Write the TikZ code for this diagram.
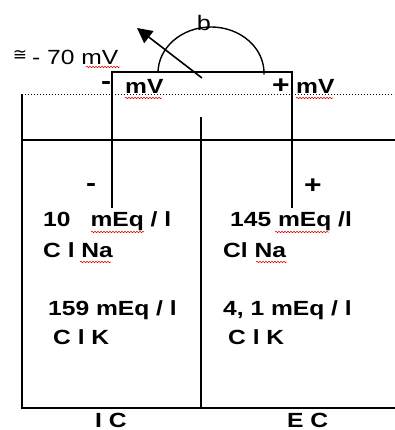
\documentclass[tikz,border=0pt]{standalone}
\usepackage{fontspec}
\setmainfont[FakeStretch=1.2]{Liberation Sans}
\newfontfamily\symfont{DejaVu Sans}
\usetikzlibrary{arrows.meta,decorations.pathmorphing}
\begin{document}
\begin{tikzpicture}[x=1pt,y=-1pt,
  wall/.style={line width=1.6pt,line cap=rect},
  lab/.style={font=\fontsize{20.5}{20}\selectfont\bfseries,inner sep=0pt,anchor=west},
  sign/.style={font=\fontsize{25}{25}\selectfont\bfseries,inner sep=0pt},
  squig/.style={red!85!black,line width=0.5pt,decorate,decoration={snake,amplitude=0.8pt,segment length=3pt}}]
\useasboundingbox (0,0) rectangle (394,430);
% coordinates
\coordinate (lt) at (22,95);
\coordinate (lb) at (22,408);
\coordinate (rb) at (394,408);
\coordinate (ht1) at (22,140);
\coordinate (ht2) at (394,140);
\coordinate (mt) at (201,118);
\coordinate (mb) at (201,408);
\coordinate (d1) at (22,95);
\coordinate (d2) at (394,95);
\coordinate (bl) at (112,207);
\coordinate (btl) at (112,72);
\coordinate (btr) at (292,72);
\coordinate (br) at (292,207);
\coordinate (arcs) at (158,73);
\coordinate (atail) at (202,78);
\coordinate (ahead) at (137,28);
% walls
\draw[wall] (lt) -- (lb) -- (rb);
\draw[wall] (ht1) -- (ht2);
\draw[wall] (mt) -- (mb);
\draw[dotted,line width=1pt] (d1) -- (d2);
% meter
\draw[wall] (bl) -- (btl) -- (btr) -- (br);
\draw[line width=1.4pt] (arcs) arc[start angle=180,end angle=362,x radius=53,y radius=46];
\draw[line width=1.6pt,-{Triangle[length=15pt,width=15pt]}] (atail) -- (ahead);
% labels
\node[inner sep=0pt,font=\fontsize{21}{21}\selectfont] (b) at (204,23) {b};
\node[inner sep=0pt,font=\symfont\fontsize{17}{17}\selectfont] (approx) at (20,55) {≅};
\node[inner sep=0pt,anchor=west,font=\fontsize{20.5}{20}\selectfont] (v) at (32,57) {- 70 mV};
\node[sign] (mvl1) at (106,86) {-};
\node[lab] (mvl2) at (125,86) {mV};
\node[sign] (mvr1) at (281,86) {+};
\node[lab] (mvr2) at (296,86) {mV};
\node[sign] (minus) at (91,188) {-};
\node[sign] (plus) at (313,186) {+};
\node[lab] (t1) at (43,221) {10\hspace{20pt}mEq / l};
\node[lab] (t2) at (43,250) {C l Na};
\node[lab] (t3) at (230,221) {145 mEq /l};
\node[lab] (t4) at (223,250) {Cl Na};
\node[lab] (t5) at (48,310) {159 mEq / l};
\node[lab] (t6) at (53,337) {C l K};
\node[lab] (t7) at (223,310) {4, 1 mEq / l};
\node[lab] (t8) at (228,337) {C l K};
\node[lab] (ic) at (95,420) {I C};
\node[lab] (ec) at (287,420) {E C};
% spell-check squiggles
\draw[squig] (86,67) -- (120,67);
\draw[squig] (125,98) -- (162,98);
\draw[squig] (296,98) -- (333,98);
\draw[squig] (91,232) -- (144,232);
\draw[squig] (275,232) -- (329,232);
\draw[squig] (80,262) -- (111,262);
\draw[squig] (256,262) -- (287,262);
\end{tikzpicture}
\end{document}
